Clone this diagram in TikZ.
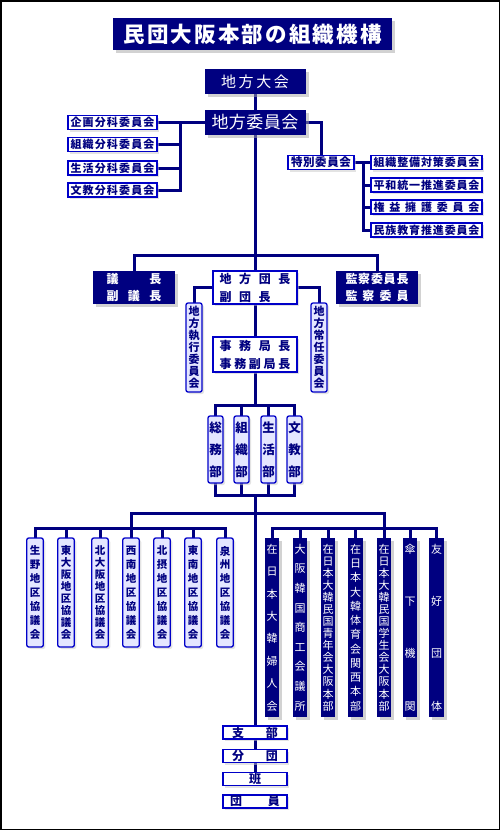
\documentclass[tikz,border=0pt]{standalone}
\usepackage{fontspec}
\setmainfont{Noto Sans CJK JP}
\usetikzlibrary{shadows}
\definecolor{navy}{RGB}{0,0,128}
\definecolor{edgeblue}{RGB}{0,0,200}
\definecolor{pale}{RGB}{228,230,255}
\pgfdeclarelayer{bg}
\pgfsetlayers{bg,main}
\ExplSyntaxOn
\NewDocumentCommand\hspread{mm}{\makebox[#1][s]{\bool_set_false:N \l_tmpa_bool \tl_map_inline:nn {#2}{\bool_if:NT \l_tmpa_bool {\hfil} ##1 \bool_set_true:N \l_tmpa_bool}}}
\NewDocumentCommand\vspread{mm}{\vbox to #1{\bool_set_false:N \l_tmpa_bool \tl_map_inline:nn {#2}{\bool_if:NT \l_tmpa_bool {\vfill} \hbox to 1em{\hss ##1\hss} \bool_set_true:N \l_tmpa_bool}}}
\ExplSyntaxOff
\newcommand\fs[1]{\fontsize{#1}{#1}\selectfont}
\newcommand\fsl[2]{\fontsize{#1}{#2}\selectfont}
\tikzset{
  link/.style={draw=navy, line width=3pt, line cap=rect},
  sz/.style 2 args={minimum width=#1pt, minimum height=#2pt},
  darkbox/.style={fill=navy, text=white, inner sep=0pt,
    drop shadow={shadow xshift=3pt, shadow yshift=-3pt, fill=black!35}},
  lightbox/.style={draw=edgeblue, line width=1.3pt, fill=white, text=navy, inner sep=0pt,
    execute at begin node=\bfseries,
    drop shadow={shadow xshift=2pt, shadow yshift=-2pt, fill=black!22}},
  tallbox/.style={lightbox, fill=pale, rounded corners=2pt},
}
\begin{document}
\begin{tikzpicture}[x=1pt,y=-1pt]
\useasboundingbox (0,0) rectangle (500,830);
\draw[black, line width=1.5pt] (0.75,0.75) rectangle (499.25,829.25);

% title and top
\node[darkbox, sz={279}{32}, font=\fs{21.5}\bfseries] (title) at (252.5,34) {\hspread{258pt}{民団大阪本部の組織機構}};
\node[darkbox, sz={101}{25}, font=\fs{15}] (taikai) at (255,81.5) {\hspread{68pt}{地方大会}};
\node[darkbox, sz={101}{25}, font=\fs{17}] (iinkai) at (255,122.5) {\hspread{87pt}{地方委員会}};

% left committees
\node[lightbox, sz={89}{14}, font=\fs{11}] (c1) at (112.5,122.5) {\hspread{84pt}{企画分科委員会}};
\node[lightbox, sz={89}{14}, font=\fs{11}] (c2) at (112.5,144.5) {\hspread{84pt}{組織分科委員会}};
\node[lightbox, sz={89}{14}, font=\fs{11}] (c3) at (112.5,168) {\hspread{84pt}{生活分科委員会}};
\node[lightbox, sz={89}{14}, font=\fs{11}] (c4) at (112.5,190) {\hspread{84pt}{文教分科委員会}};

% special committees
\node[lightbox, sz={66}{14}, font=\fs{11.5}] (toku) at (321,162.5) {\hspread{60pt}{特別委員会}};
\node[lightbox, sz={111}{14}, font=\fs{11}] (r1) at (426.5,162.5) {\hspread{106pt}{組織整備対策委員会}};
\node[lightbox, sz={111}{14}, font=\fs{11}] (r2) at (426.5,185) {\hspread{106pt}{平和統一推進委員会}};
\node[lightbox, sz={111}{14}, font=\fs{11}] (r3) at (426.5,207) {\hspread{106pt}{権益擁護委員会}};
\node[lightbox, sz={111}{14}, font=\fs{11}] (r4) at (426.5,230) {\hspread{106pt}{民族教育推進委員会}};

% leaders
\node[darkbox, sz={82}{33}, font=\fsl{12}{17}\bfseries, align=center] (gicho) at (134,287.5) {\hspread{55pt}{議長}\\\hspread{55pt}{副議長}};
\node[darkbox, sz={82}{33}, font=\fsl{12}{17}\bfseries, align=center] (kansa) at (377,287.5) {\hspread{63pt}{監察委員長}\\\hspread{63pt}{監察委員}};
\node[lightbox, sz={84}{33}, font=\fsl{12}{18}, align=center] (dancho) at (255,287.5) {\hspread{71pt}{地方団長}\\\makebox[71pt][l]{\hspread{51pt}{副団長}}};
\node[tallbox, sz={16}{89}, font=\fs{11}] (shikko) at (194,347.5) {\vspread{81pt}{地方執行委員会}};
\node[tallbox, sz={16}{89}, font=\fs{11}] (jonin) at (319,347.5) {\vspread{81pt}{地方常任委員会}};
\node[lightbox, sz={84}{35}, font=\fsl{12}{18}, align=center] (jimu) at (255,354.5) {\hspread{71pt}{事務局長}\\\hspread{71pt}{事務副局長}};

% departments
\node[tallbox, sz={15}{67}, font=\fs{12.5}] (d1) at (215.5,449.5) {\vspread{55pt}{総務部}};
\node[tallbox, sz={15}{67}, font=\fs{12.5}] (d2) at (241.5,449.5) {\vspread{55pt}{組織部}};
\node[tallbox, sz={15}{67}, font=\fs{12.5}] (d3) at (268.5,449.5) {\vspread{55pt}{生活部}};
\node[tallbox, sz={15}{67}, font=\fs{12.5}] (d4) at (294.5,449.5) {\vspread{55pt}{文教部}};

% district councils
\node[tallbox, sz={16.5}{109}, font=\fs{10.5}] (L1) at (35,592.5) {\vspread{92pt}{生野地区協議会}};
\node[tallbox, sz={16.5}{109}, font=\fs{10.5}] (L2) at (66,592.5) {\vspread{92pt}{東大阪地区協議会}};
\node[tallbox, sz={16.5}{109}, font=\fs{10.5}] (L3) at (100,592.5) {\vspread{92pt}{北大阪地区協議会}};
\node[tallbox, sz={16.5}{109}, font=\fs{10.5}] (L4) at (131,592.5) {\vspread{92pt}{西南地区協議会}};
\node[tallbox, sz={16.5}{109}, font=\fs{10.5}] (L5) at (162,592.5) {\vspread{92pt}{北摂地区協議会}};
\node[tallbox, sz={16.5}{109}, font=\fs{10.5}] (L6) at (193,592.5) {\vspread{92pt}{東南地区協議会}};
\node[tallbox, sz={16.5}{109}, font=\fs{10.5}] (L7) at (225,592.5) {\vspread{92pt}{泉州地区協議会}};

% organisations
\node[darkbox, sz={14.5}{179}, font=\fs{11}] (R1) at (272,627.5) {\vspread{166pt}{在日本大韓婦人会}};
\node[darkbox, sz={14.5}{179}, font=\fs{11}] (R2) at (300,627.5) {\vspread{166pt}{大阪韓国商工会議所}};
\node[darkbox, sz={14.5}{179}, font=\fs{11}] (R3) at (328,627.5) {\vspread{166pt}{在日本大韓民国青年会大阪本部}};
\node[darkbox, sz={14.5}{179}, font=\fs{11}] (R4) at (355.5,627.5) {\vspread{166pt}{在日本大韓体育会関西本部}};
\node[darkbox, sz={14.5}{179}, font=\fs{11}] (R5) at (384,627.5) {\vspread{166pt}{在日本大韓民国学生会大阪本部}};
\node[darkbox, sz={14.5}{179}, font=\fs{11}] (R6) at (410,627.5) {\vspread{166pt}{傘下機関}};
\node[darkbox, sz={14.5}{179}, font=\fs{11}] (R7) at (436.5,627.5) {\vspread{166pt}{友好団体}};

% bottom
\node[lightbox, sz={64}{13}, font=\fs{12}] (shibu) at (255,732.5) {\hspread{46pt}{支部}};
\node[lightbox, sz={64}{13}, font=\fs{12}] (bun) at (255,756) {\hspread{46pt}{分団}};
\node[lightbox, sz={64}{13}, font=\fs{12}] (han) at (255,779) {班};
\node[lightbox, sz={64}{13}, font=\fs{12}] (danin) at (255,801.5) {\hspread{50pt}{団員}};

% junction coordinates
\coordinate (jl) at (180,0);
\coordinate (jr) at (363,0);
\coordinate (bar1) at (255,255);
\coordinate (bar2) at (255,405);
\coordinate (bar3) at (255,495);
\coordinate (bar4) at (255,513);
\coordinate (lbar) at (131,528);
\coordinate (rbar) at (384,528);

\begin{pgfonlayer}{bg}
\draw[link] (taikai.south) -- (iinkai.north);
\draw[link] (iinkai.west) -- (c1.east);
\draw[link] (c1.east -| jl) -- (c4.east -| jl);
\foreach \n in {c2,c3,c4} \draw[link] (\n.east) -- (\n.east -| jl);
\draw[link] (iinkai.east) -| (toku.north);
\draw[link] (toku.east) -- (r1.west);
\draw[link] (r1.west -| jr) -- (r4.west -| jr);
\foreach \n in {r2,r3,r4} \draw[link] (\n.west) -- (\n.west -| jr);
\draw[link] (iinkai.south) -- (dancho.north);
\draw[link] (gicho.north) |- (bar1) -| (kansa.north);
\draw[link] (dancho.west) -| (shikko.north);
\draw[link] (dancho.east) -| (jonin.north);
\draw[link] (dancho.south) -- (jimu.north);
\draw[link] (jimu.south) -- (bar2);
\draw[link] (d1.north) |- (bar2) -| (d4.north);
\foreach \n in {d2,d3} \draw[link] (\n.north) -- (\n.north |- bar2);
\draw[link] (d1.south) |- (bar3) -| (d4.south);
\foreach \n in {d2,d3} \draw[link] (\n.south) -- (\n.south |- bar3);
\draw[link] (bar3) -- (shibu.north);
\draw[link] (L4.north) |- (bar4) -| (R5.north);
\draw[link] (L1.north) |- (lbar) -| (L7.north);
\foreach \n in {L2,L3,L5,L6} \draw[link] (\n.north) -- (\n.north |- lbar);
\draw[link] (R1.north) |- (rbar) -| (R7.north);
\foreach \n in {R2,R3,R4,R6} \draw[link] (\n.north) -- (\n.north |- rbar);
\draw[link] (shibu.south) -- (bun.north);
\draw[link] (bun.south) -- (han.north);
\end{pgfonlayer}
\end{tikzpicture}
\end{document}
